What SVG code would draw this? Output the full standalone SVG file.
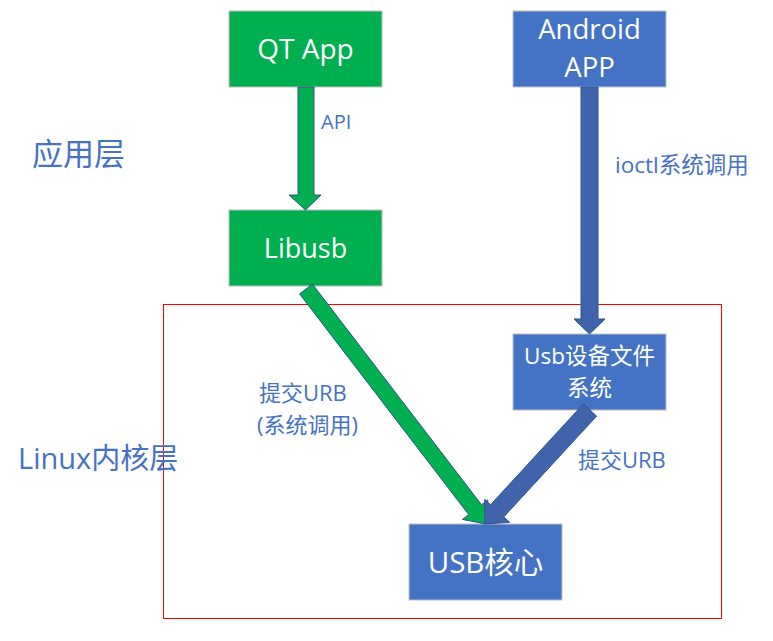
<svg xmlns="http://www.w3.org/2000/svg" width="773" height="641" viewBox="0 0 773 641">
<style>
.g{fill:#00B050;stroke:#BFBFBF;stroke-width:1}
.b{fill:#4472C4;stroke:#BFBFBF;stroke-width:1}
.t{font-family:"Open Sans","Noto Sans CJK SC",sans-serif;fill:#FFFFFF;text-anchor:middle}
.l{font-family:"Open Sans","Noto Sans CJK SC",sans-serif;fill:#4472C4}
.ag{fill:#00B050;stroke:#2F528F;stroke-width:1}
.ab{fill:#3F64AC;stroke:#2F528F;stroke-width:1}
</style>
<rect width="773" height="641" fill="#FFFFFF"/>
<rect x="163.5" y="304.5" width="558" height="314" fill="none" stroke="#FF0000" stroke-width="1" shape-rendering="crispEdges"/>
<g id="qtapp"><rect class="g" x="229" y="11" width="153" height="76"/><text class="t" x="305.5" y="59" font-size="28">QT App</text></g>
<g id="libusb"><rect class="g" x="229" y="210" width="153" height="76"/><text class="t" x="305.5" y="258" font-size="27">Libusb</text></g>
<g id="android"><rect class="b" x="513" y="11" width="153" height="76"/><text class="t" x="589.5" y="39" font-size="27.5">Android</text><text class="t" x="589.5" y="77" font-size="27.5">APP</text></g>
<g id="usbfs"><rect class="b" x="513" y="334" width="153" height="76"/><text class="t" x="589.5" y="364" font-size="22.5">Usb设备文件</text><text class="t" x="589.5" y="396" font-size="22.5">系统</text></g>
<g id="usbcore"><rect class="b" x="409" y="524" width="153" height="76"/><text class="t" x="485.5" y="573" font-size="29.5">USB核心</text></g>
<g id="connectors">
<polygon class="ag" points="298,87 314,87 314,195 321,195 305.5,210 289,195 298,195"/>
<polygon class="ab" points="581,87 598,87 598,319 605,319 589.5,334 574,319 581,319"/>
<polygon class="ag" points="312.4,284.1 481.5,504.8 487.8,499.9 486,524 462.4,519.4 468.7,514.6 299.6,293.9"/>
<polygon class="ab" points="596.6,416.1 503.8,516.9 509.7,522.3 485,524 484.7,499.3 490.6,504.7 583.4,403.9"/>
</g>
<g id="labels">
<text class="l" x="321" y="129" font-size="20">API</text>
<text class="l" x="615" y="173" font-size="22.5">ioctl系统调用</text>
<text class="l" x="259" y="401" font-size="22">提交URB</text>
<text class="l" x="257" y="433" font-size="22">(系统调用)</text>
<text class="l" x="578" y="468" font-size="22">提交URB</text>
<text class="l" x="32" y="165" font-size="31">应用层</text>
<text class="l" x="18" y="469" font-size="29">Linux内核层</text>
</g>
</svg>
